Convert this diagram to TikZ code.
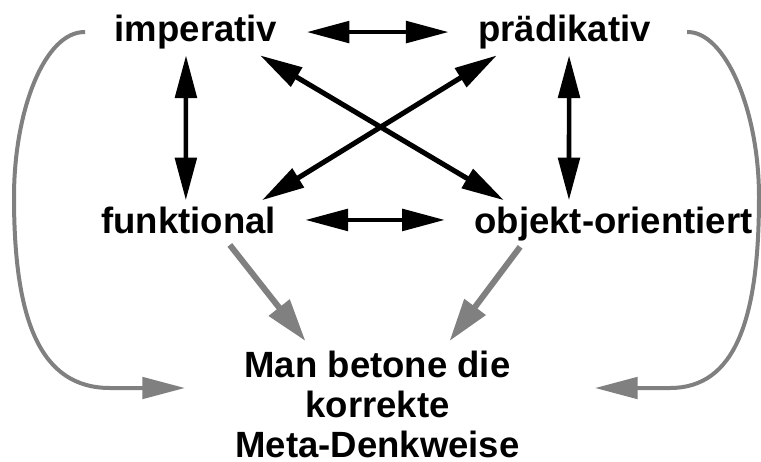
\documentclass[tikz,border=0pt]{standalone}
\usepackage{fontspec}
\setmainfont{Liberation Sans}
\usetikzlibrary{arrows.meta}
\tikzstyle{word} = [font=\fontsize{27.4}{30}\selectfont\bfseries, inner xsep=22pt, inner ysep=4.5pt]
\tikzstyle{line} = [draw, line width=3.4pt, >={Triangle[length=32pt,width=16pt]}, <->]
\tikzstyle{grayline} = [draw, gray, line width=4.5pt, >={Triangle[length=32pt,width=19pt]}, ->]
\tikzstyle{grayarc} = [draw, gray, line width=3pt, >={Triangle[length=32pt,width=16pt]}, ->]

\begin{document}
\begin{tikzpicture}[x=0.75pt, y=-0.75pt, auto]
    \useasboundingbox (0,0) rectangle (761,461);
    % Place nodes
    \node [word, anchor=base] (imp) at (196,41.5) {imperativ};
    \node [word, right of=imp, node distance=276.4pt] (praed) {prädikativ};
    \node [word, anchor=base] (funk) at (188.5,233) {funktional};
    \node [word, anchor=base] (obj) at (613.5,233) {objekt-orientiert};
    \node [word, align=center, anchor=north, inner ysep=0pt] (meta) at (377.5,350.4) {Man betone die\\korrekte\\Meta-Denkweise};
    % Draw edges
    \path [line] (imp.east) -- (praed.west);
    \path [line] (funk.east) -- (funk.east -| obj.west);
    \path [line] ([xshift=-7.5pt]imp.south) -- ([xshift=-2pt]funk.north);
    \path [line] ([xshift=3.4pt]praed.south) -- ([xshift=-33.4pt]obj.north);
    \path [line, line width=3.8pt] (imp.-20) -- (obj.168.5);
    \path [line, line width=3.8pt] (praed.-161) -- (funk.15);
    \path [grayline] ([xshift=31pt,yshift=-4pt]funk.south) -- ([xshift=-54pt,yshift=7pt]meta.north);
    \path [grayline] ([xshift=-70pt]obj.south) -- ([xshift=54pt,yshift=7pt]meta.north);
    % Side arcs
    \path [grayarc] (imp.west) .. controls (45,31) and (14,110) .. (14,197)
        .. controls (14,320) and (40,388) .. (110,388) -- ([xshift=-144.4pt,yshift=-28.2pt]meta.north);
    \path [grayarc] ([xshift=5pt]praed.east) .. controls (725,31) and (759,110) .. (759,197)
        .. controls (759,320) and (735,388) .. (670,388) -- ([xshift=163.1pt,yshift=-28.2pt]meta.north);
\end{tikzpicture}
\end{document}
